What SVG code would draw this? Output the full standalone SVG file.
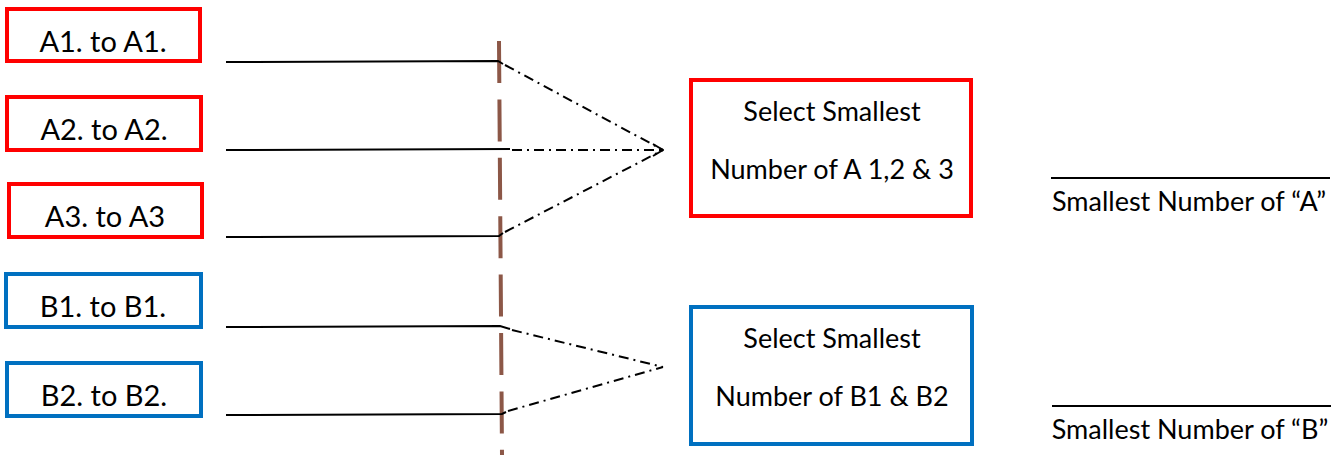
<svg xmlns="http://www.w3.org/2000/svg" width="1340" height="455" viewBox="0 0 1340 455">
<style>
.red{fill:#fff;stroke:#ff0000;stroke-width:4}
.blue{fill:#fff;stroke:#0070c0;stroke-width:4}
.t{font-family:Lato,"Liberation Sans",sans-serif;fill:#000;text-anchor:middle}
.big{font-size:29px}
.sm{font-size:27px}
.solid{stroke:#000;stroke-width:2;fill:none}
.dd{stroke:#000;stroke-width:2;fill:none;stroke-dasharray:10 5 2 5}
</style>
<defs>
<marker id="arr" viewBox="0 0 12 14" refX="11" refY="7" markerWidth="12" markerHeight="14" markerUnits="userSpaceOnUse" orient="auto">
<path d="M1,1 L11,7 L1,13" fill="none" stroke="#000" stroke-width="2"/>
</marker>
</defs>
<g id="A1"><rect class="red" x="7" y="9" width="193" height="52"/><text class="t big" x="103" y="52">A1. to A1.</text></g>
<g id="A2"><rect class="red" x="7" y="97" width="194" height="53"/><text class="t big" x="104" y="140">A2. to A2.</text></g>
<g id="A3"><rect class="red" x="9" y="184" width="193" height="53"/><text class="t big" x="105" y="227">A3. to A3</text></g>
<g id="B1"><rect class="blue" x="6" y="274" width="195" height="53"/><text class="t big" x="103" y="317">B1. to B1.</text></g>
<g id="B2"><rect class="blue" x="7" y="363" width="194" height="53"/><text class="t big" x="104" y="406">B2. to B2.</text></g>
<g id="SelA"><rect class="red" x="691" y="80" width="280" height="136"/><text class="t sm" x="832" y="121">Select Smallest</text><text class="t sm" x="832" y="179">Number of A 1,2 &amp; 3</text></g>
<g id="SelB"><rect class="blue" x="691" y="307" width="281" height="137"/><text class="t sm" x="832" y="348">Select Smallest</text><text class="t sm" x="832" y="406">Number of B1 &amp; B2</text></g>
<g id="OutA"><line class="solid" x1="1051" y1="178" x2="1330" y2="178"/><text class="t sm" x="1189" y="211">Smallest Number of “A”</text></g>
<g id="OutB"><line class="solid" x1="1052" y1="406" x2="1331" y2="406"/><text class="t sm" x="1190" y="439">Smallest Number of “B”</text></g>
<g id="connectors">
<line x1="499" y1="41" x2="502" y2="455" stroke="#8c5747" stroke-width="4" stroke-dasharray="42 16.4"/>
<path class="solid" d="M226,62 L498,61 L503,64"/>
<path class="solid" d="M226,150 L510,149"/>
<path class="solid" d="M226,237 L499,236 L503,233"/>
<path class="solid" d="M226,327 L500,326 L510,329"/>
<path class="solid" d="M226,415 L502,414 L506,412"/>
<path class="dd" d="M505,65 L663,150"/>
<path class="dd" d="M512,150 L663,150" marker-end="url(#arr)"/>
<path class="dd" d="M505,232 L663,150"/>
<path class="dd" d="M512,330 L663,367"/>
<path class="dd" d="M508,411 L663,367"/>
</g>
</svg>
